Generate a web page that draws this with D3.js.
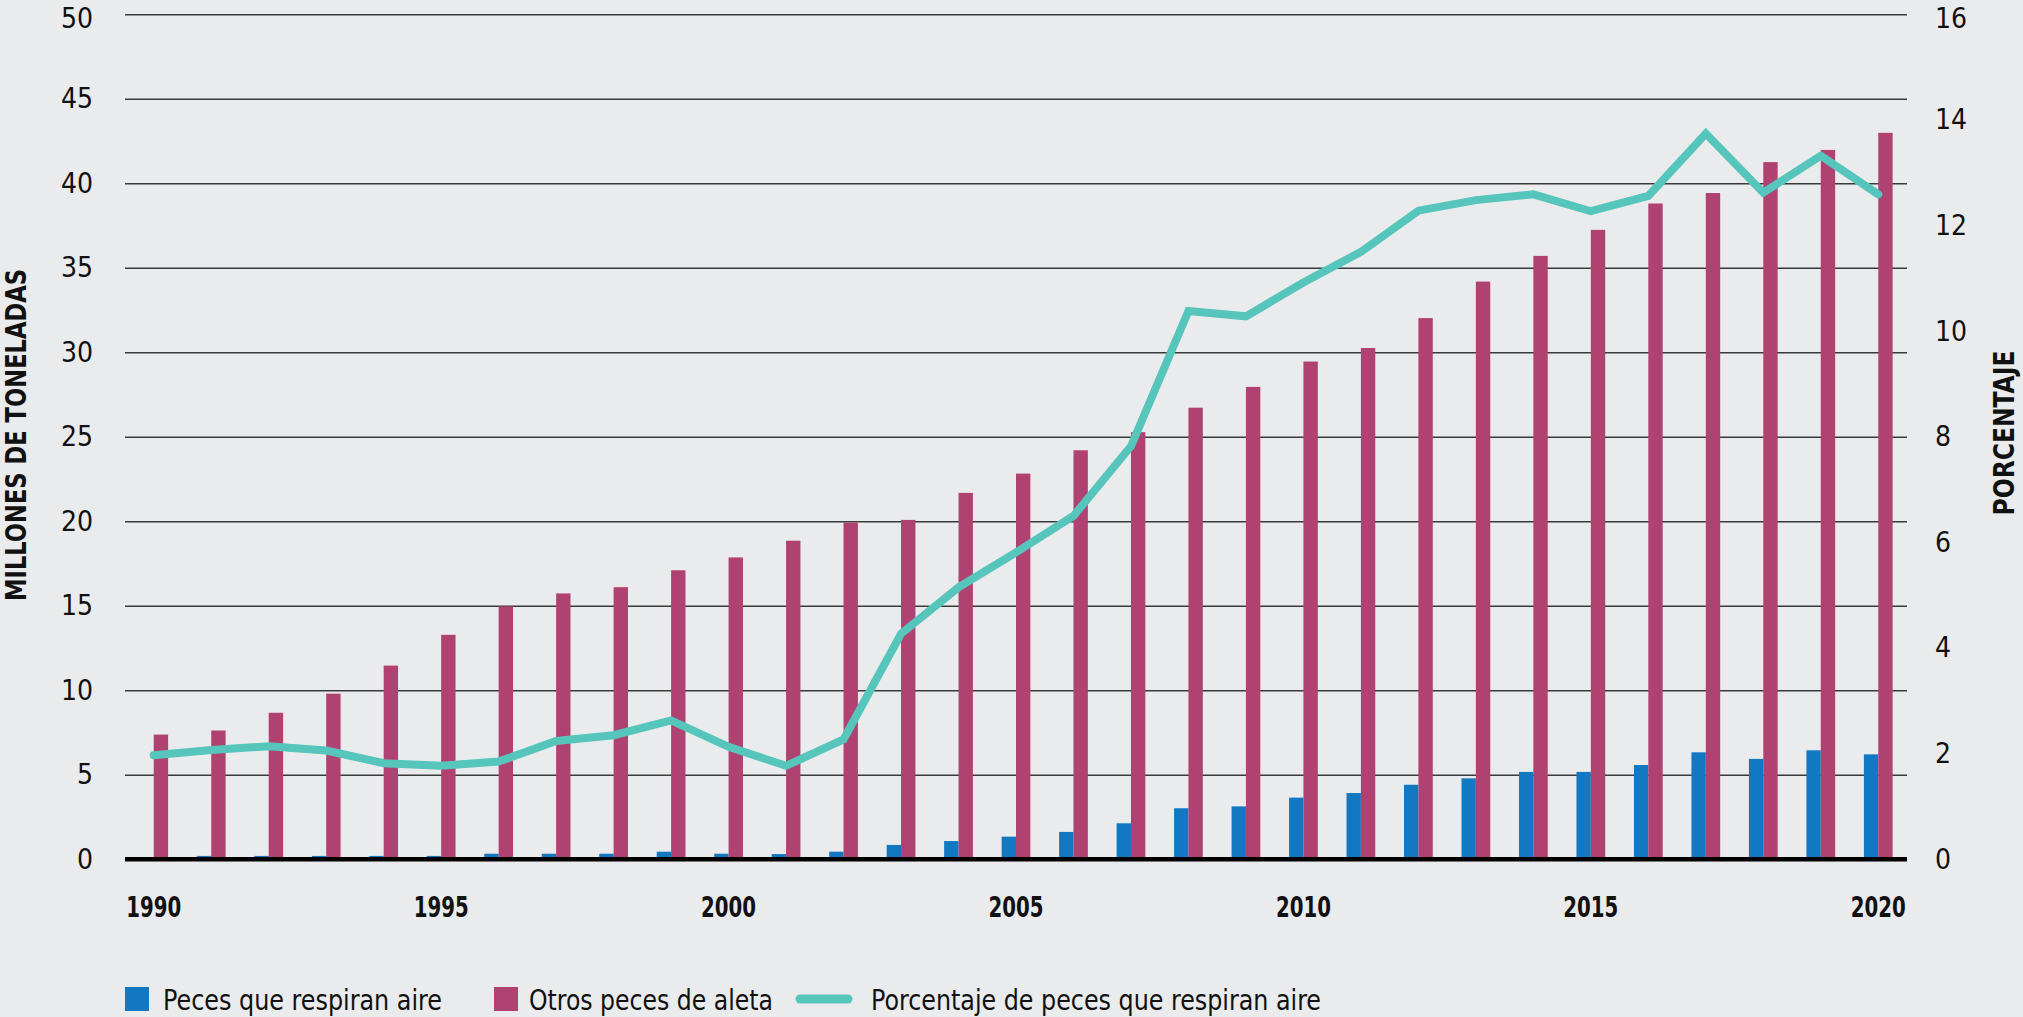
<!DOCTYPE html>
<html><head><meta charset="utf-8">
<script src="https://cdn.jsdelivr.net/npm/d3@7"></script>
<style>
body{margin:0;background:#eaebed}
svg{display:block}
text{font-family:"Liberation Sans Narrow","DejaVu Sans Condensed","Roboto",sans-serif;fill:#111}
</style>
</head><body><svg id="c" width="2023" height="1017"></svg>
<script>
const years = [1990,1991,1992,1993,1994,1995,1996,1997,1998,1999,2000,2001,2002,2003,2004,2005,2006,2007,2008,2009,2010,2011,2012,2013,2014,2015,2016,2017,2018,2019,2020];
const airBreathing = [0.1,0.2,0.2,0.2,0.2,0.2,0.33,0.33,0.33,0.45,0.33,0.31,0.45,0.85,1.08,1.34,1.62,2.13,3.02,3.13,3.65,3.92,4.41,4.79,5.17,5.17,5.58,6.33,5.94,6.45,6.21];
const otherFinfish = [7.38,7.62,8.67,9.8,11.46,13.28,14.96,15.73,16.1,17.1,17.86,18.85,19.92,20.08,21.68,22.82,24.2,25.27,26.72,27.95,29.45,30.25,32.02,34.18,35.7,37.24,38.8,39.42,41.25,41.97,42.98];
const percentage = [1.97,2.07,2.14,2.06,1.82,1.77,1.85,2.24,2.35,2.63,2.13,1.77,2.27,4.27,5.15,5.81,6.5,7.82,10.38,10.28,10.92,11.5,12.28,12.48,12.59,12.27,12.56,13.74,12.62,13.32,12.59];
const leftTicks = [0,5,10,15,20,25,30,35,40,45,50];
const rightTicks = [0,2,4,6,8,10,12,14,16];
const xLabelYears = [1990,1995,2000,2005,2010,2015,2020];
const seriesKeys = ["air","other"];
const seriesNames = ["Peces que respiran aire","Otros peces de aleta","Porcentaje de peces que respiran aire"];
const colors = {air:"#1278c2", other:"#b04272", line:"#56c5bb"};

const svg = d3.select("#c");
const L = 125, R = 1907, T = 14.2, B = 859.3;

const x0 = d3.scaleBand().domain(years).range([L,R]).paddingInner(0.5).paddingOuter(0.25);
const x1 = d3.scaleBand().domain(seriesKeys).range([0,x0.bandwidth()]);
const yL = d3.scaleLinear().domain([0,50]).range([B,T]);
const yR = d3.scaleLinear().domain([0,16]).range([B,T]);

// gridlines
const gl = svg.append("g").attr("transform",`translate(${L},0)`)
  .call(d3.axisLeft(yL).tickValues(leftTicks).tickSize(-(R-L)).tickFormat(""));
gl.select(".domain").remove();
gl.selectAll(".tick line").attr("stroke","#3a3a3a").attr("stroke-width",1.6);

// left labels
const la = svg.append("g").attr("transform",`translate(${L},0)`)
  .call(d3.axisLeft(yL).tickValues(leftTicks).tickSize(0).tickPadding(32));
la.select(".domain").remove();
la.selectAll("text").attr("font-size",28).attr("font-family",null).attr("fill","#111")
  .attr("dy",d=>d===50?"0.46em":"0.32em");

// right labels
const ra = svg.append("g").attr("transform",`translate(${R},0)`)
  .call(d3.axisRight(yR).tickValues(rightTicks).tickSize(0).tickPadding(28));
ra.select(".domain").remove();
ra.selectAll("text").attr("font-size",28).attr("font-family",null).attr("fill","#111")
  .attr("dy",d=>d===16?"0.46em":"0.32em");

// bars
const data = years.map((y,i)=>({year:y, air:airBreathing[i], other:otherFinfish[i]}));
const grp = svg.append("g").selectAll("g").data(data).join("g")
  .attr("transform",d=>`translate(${x0(d.year)},0)`);
grp.selectAll("rect").data(d=>seriesKeys.map(k=>({k, v:d[k]}))).join("rect")
  .attr("x",d=>x1(d.k)).attr("width",x1.bandwidth())
  .attr("y",d=>yL(d.v)).attr("height",d=>B-yL(d.v))
  .attr("fill",d=>colors[d.k]);

// baseline
svg.append("line").attr("x1",L).attr("x2",R).attr("y1",B).attr("y2",B)
  .attr("stroke","#000").attr("stroke-width",4.5);

// line
const line = d3.line().x((d,i)=>x0(years[i])+x0.bandwidth()/2).y(d=>yR(d));
svg.append("path").datum(percentage).attr("d",line)
  .attr("fill","none").attr("stroke",colors.line).attr("stroke-width",8)
  .attr("stroke-linejoin","miter").attr("stroke-linecap","round");

// x labels
const xa = svg.append("g").attr("transform",`translate(0,${B})`)
  .call(d3.axisBottom(x0).tickValues(xLabelYears).tickSize(0).tickPadding(38));
xa.select(".domain").remove();
xa.selectAll("text").attr("font-size",28).attr("font-weight","bold").attr("font-family",null).attr("fill","#111")
  .attr("textLength",55).attr("lengthAdjust","spacingAndGlyphs");

// axis titles
svg.append("text").attr("transform","translate(26,435) rotate(-90)")
  .attr("text-anchor","middle").attr("font-size",28).attr("font-weight","bold")
  .attr("textLength",332).attr("lengthAdjust","spacingAndGlyphs")
  .text("MILLONES DE TONELADAS");
svg.append("text").attr("transform","translate(2014,433) rotate(-90)")
  .attr("text-anchor","middle").attr("font-size",28).attr("font-weight","bold")
  .attr("textLength",165).attr("lengthAdjust","spacingAndGlyphs")
  .text("PORCENTAJE");

// legend
const lg = svg.append("g");
const ly = 999;
lg.append("rect").attr("x",125).attr("y",ly-12).attr("width",24).attr("height",24).attr("fill",colors.air);
lg.append("text").attr("x",163).attr("y",ly+11).attr("font-size",28)
  .attr("textLength",279).attr("lengthAdjust","spacingAndGlyphs").text(seriesNames[0]);
lg.append("rect").attr("x",494).attr("y",ly-12).attr("width",24).attr("height",24).attr("fill",colors.other);
lg.append("text").attr("x",529).attr("y",ly+11).attr("font-size",28)
  .attr("textLength",244).attr("lengthAdjust","spacingAndGlyphs").text(seriesNames[1]);
lg.append("line").attr("x1",800).attr("x2",848).attr("y1",ly).attr("y2",ly)
  .attr("stroke",colors.line).attr("stroke-width",9).attr("stroke-linecap","round");
lg.append("text").attr("x",871).attr("y",ly+11).attr("font-size",28)
  .attr("textLength",450).attr("lengthAdjust","spacingAndGlyphs").text(seriesNames[2]);
</script>
</body></html>
